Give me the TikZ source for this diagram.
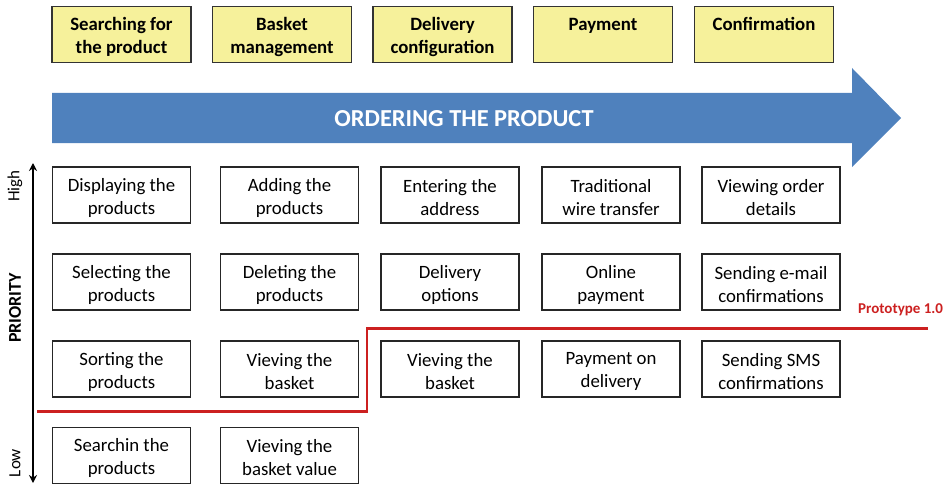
\documentclass[tikz,border=0pt]{standalone}
\usepackage{fontspec}
\setmainfont{Carlito}
\usetikzlibrary{arrows.meta}
\definecolor{boxyellow}{RGB}{246,241,155}
\definecolor{arrowblue}{RGB}{79,129,189}
\definecolor{protored}{RGB}{204,32,32}
\tikzset{
  phaselbl/.style={align=center, inner sep=0pt, yshift=-2.5pt, font=\fontsize{18.8}{23}\selectfont\bfseries},
  phase/.style={draw=black!80, line width=1.1pt, fill=boxyellow, minimum width=139pt, minimum height=56pt, inner sep=0pt, label={[phaselbl]center:{#1}}},
  tasklbl/.style={align=center, inner sep=0pt, yshift=-2.5pt, font=\fontsize{18.8}{23}\selectfont},
  task/.style={draw=black!85, line width=1.1pt, fill=white, minimum width=138pt, minimum height=56pt, inner sep=0pt, label={[tasklbl]center:{#1}}},
  axislabel/.style={rotate=90, font=\fontsize{17}{19}\selectfont},
}
\begin{document}
\begin{tikzpicture}[x=1pt,y=-1pt]
\useasboundingbox (0,0) rectangle (944,484);
% phases
\node[phase={Searching for\\the product}] (p1) at (121.5,34.5) {};
\node[phase={Basket\\management}] (p2) at (282,34.5) {};
\node[phase={Delivery\\configuration}] (p3) at (442.5,34.5) {};
\node[phase={Payment\\\vphantom{product}}] (p4) at (603,34.5) {};
\node[phase={Confirmation\\\vphantom{product}}] (p5) at (764,34.5) {};
% big arrow
\fill[arrowblue] (52,93) -- (852,93) -- (852,68) -- (901,118) -- (852,167) -- (852,143) -- (52,143) -- cycle;
\node[text=white, font=\fontsize{24.4}{28}\selectfont\bfseries] (order) at (464,119) {ORDERING THE PRODUCT};
% tasks row 1
\node[task={Displaying the\\products}] (a1) at (121.5,195) {};
\node[task={Adding the\\products}] (a2) at (289.5,195) {};
\node[task={Entering the\\address}] (a3) at (450,195) {};
\node[task={Traditional\\wire transfer}] (a4) at (611,195) {};
\node[task={Viewing order\\details}] (a5) at (771,195) {};
% row 2
\node[task={Selecting the\\products}] (b1) at (121.5,282) {};
\node[task={Deleting the\\products}] (b2) at (289.5,282) {};
\node[task={Delivery\\options}] (b3) at (450,282) {};
\node[task={Online\\payment}] (b4) at (611,282) {};
\node[task={Sending e-mail\\confirmations}] (b5) at (771,282) {};
% row 3
\node[task={Sorting the\\products}] (c1) at (121.5,369) {};
\node[task={Vieving the\\basket}] (c2) at (289.5,369) {};
\node[task={Vieving the\\basket}] (c3) at (450,369) {};
\node[task={Payment on\\delivery}] (c4) at (611,369) {};
\node[task={Sending SMS\\confirmations}] (c5) at (771,369) {};
% row 4
\node[task={Searchin the\\products}] (d1) at (121.5,455.5) {};
\node[task={Vieving the\\basket value}] (d2) at (289.5,455.5) {};
% priority axis
\coordinate (ptop) at (33,163);
\coordinate (pbot) at (33,483);
\draw[line width=1.8pt, {Stealth[length=8pt,width=8pt]}-{Stealth[length=8pt,width=8pt]}] (ptop) -- (pbot);
\node[axislabel] (high) at (15,186) {High};
\node[axislabel] (low) at (15,463) {Low};
\node[axislabel, font=\fontsize{18}{20}\selectfont\bfseries] (prio) at (15,308) {PRIORITY};
% prototype line
\coordinate (r1) at (37,411.5);
\coordinate (r2) at (367,411.5);
\coordinate (r3) at (367,328.5);
\coordinate (r4) at (928,328.5);
\draw[protored, line width=2.2pt] (r1) -- (r2) -- (r3) -- (r4);
\node[text=protored, font=\fontsize{15}{17}\selectfont\bfseries, anchor=west, inner sep=0pt] (proto) at (858,310) {Prototype 1.0};
\end{tikzpicture}
\end{document}
